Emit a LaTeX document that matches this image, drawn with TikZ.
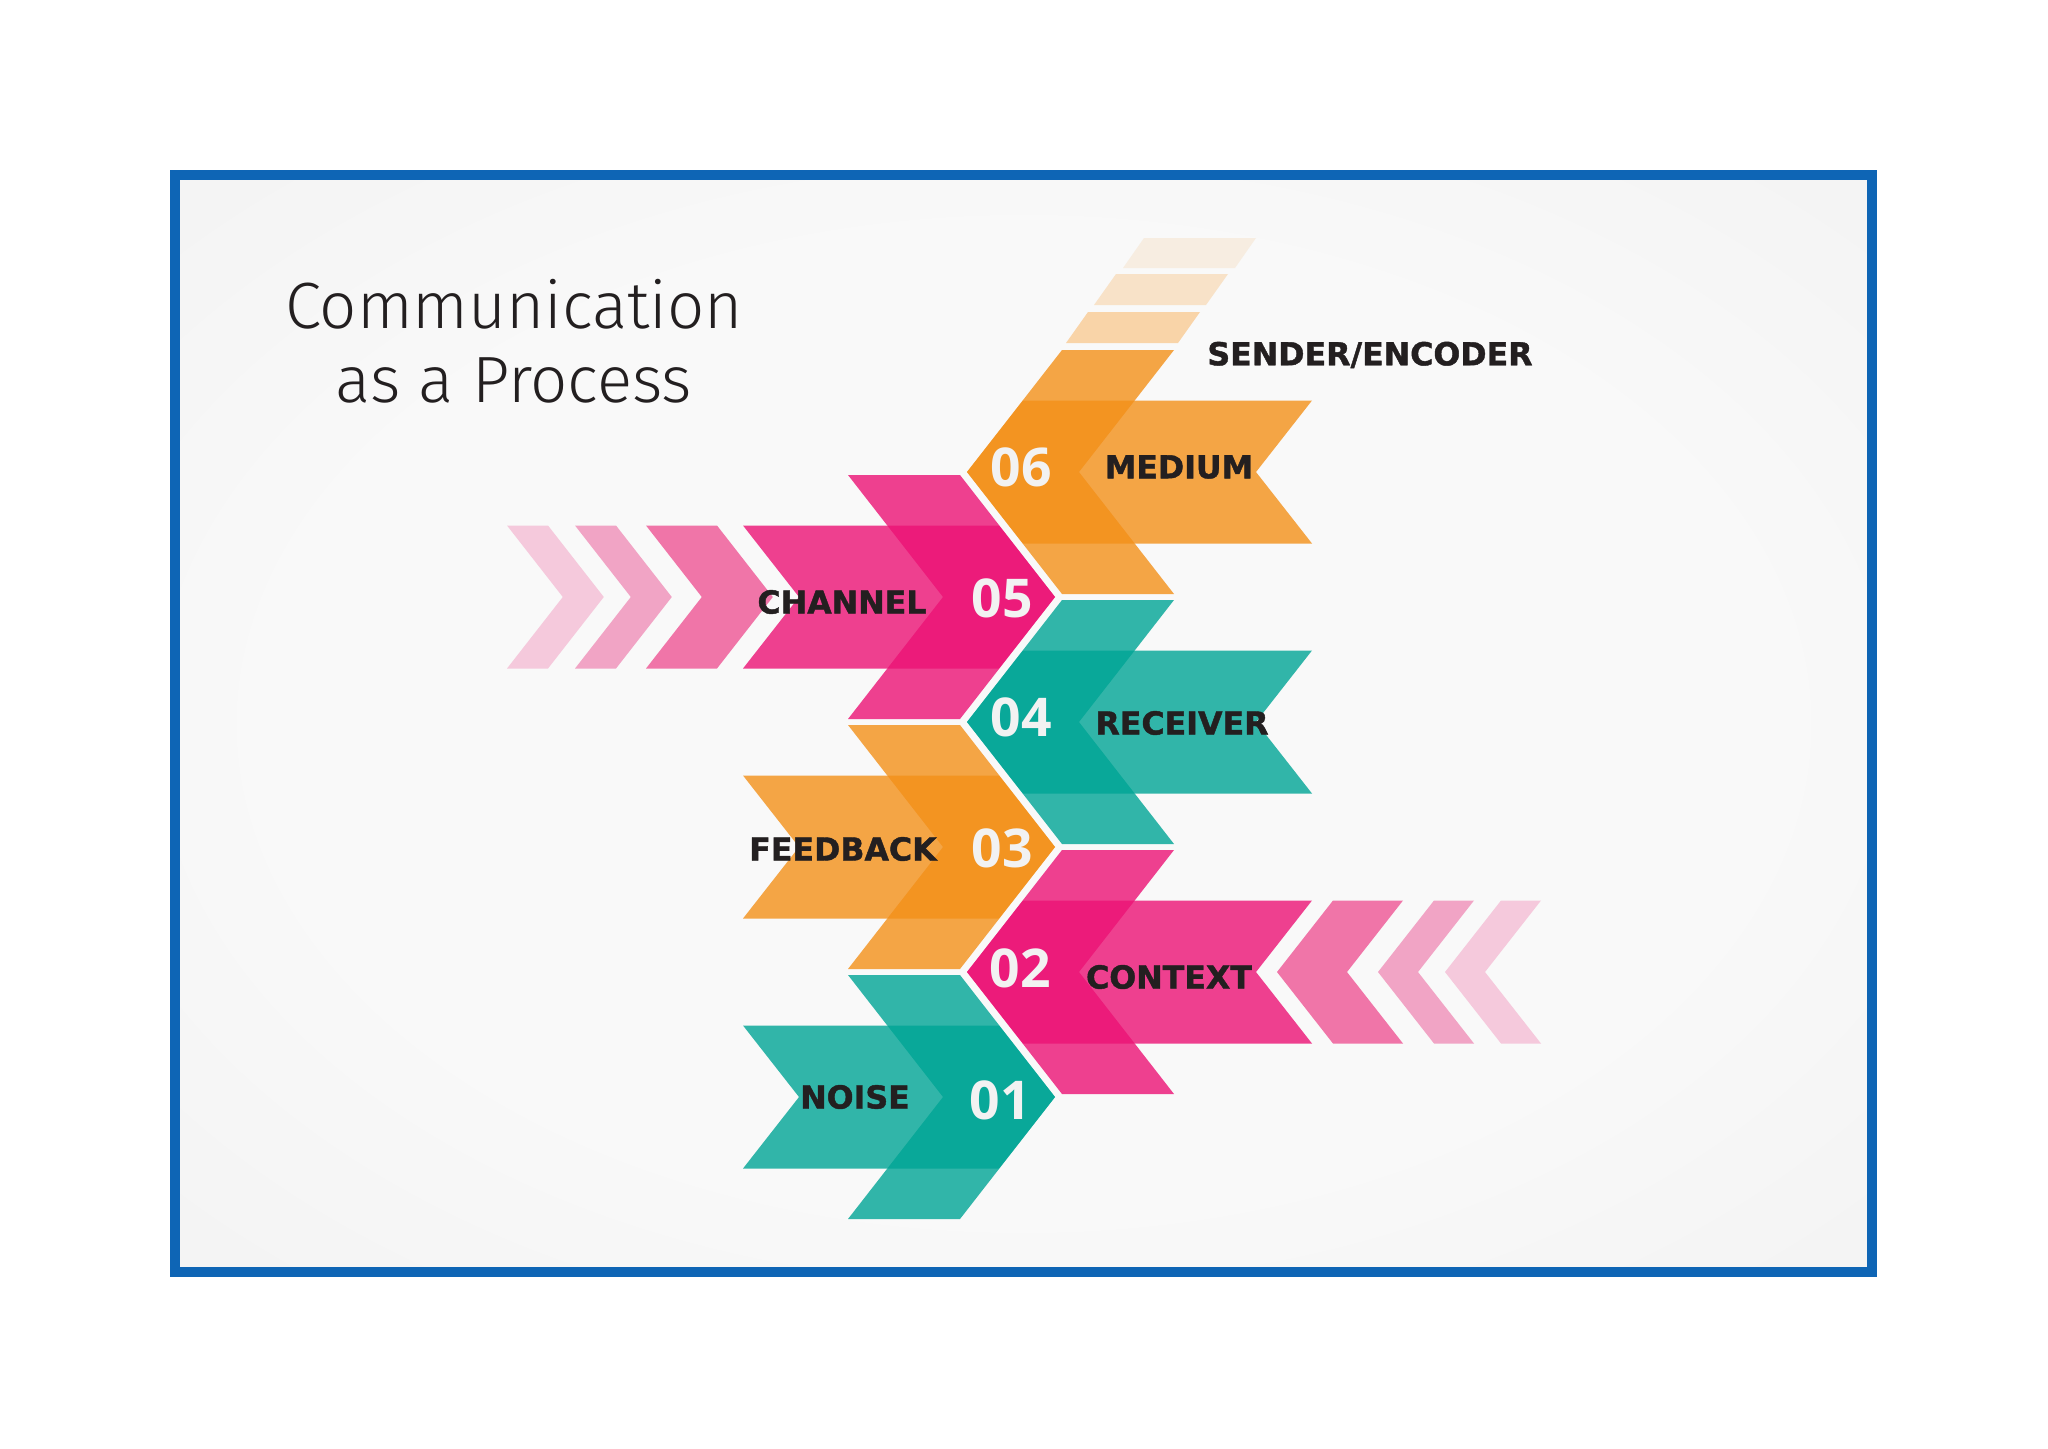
\documentclass[tikz,border=0pt]{standalone}
\usepackage{fontspec}
\setmainfont{DejaVu Sans}
\newfontfamily\titlefont{Fira Sans Light}
\newfontfamily\numfont{Open Sans}
\newfontfamily\heavyfont{DejaVu Sans Bold}[FakeBold=1.3]

\definecolor{frameblue}{RGB}{14,101,181}
\definecolor{tealc}{RGB}{0,165,149}
\definecolor{pinkc}{RGB}{236,18,117}
\definecolor{orangec}{RGB}{243,144,25}
\definecolor{fadeC}{RGB}{240,117,168}
\definecolor{fadeB}{RGB}{241,164,197}
\definecolor{fadeA}{RGB}{245,201,220}
\definecolor{stripe3}{RGB}{249,212,168}
\definecolor{stripe2}{RGB}{248,226,200}
\definecolor{stripe1}{RGB}{247,237,225}
\definecolor{bgin}{RGB}{249,249,249}
\definecolor{bgout}{RGB}{229,229,229}
\definecolor{inktext}{RGB}{35,31,32}
\definecolor{numwhite}{RGB}{242,242,242}
\pgfdeclareradialshading{panel}{\pgfpoint{0bp}{0bp}}{color(0bp)=(bgin); color(22bp)=(bgin); color(70bp)=(bgout)}

\begin{document}
\begin{tikzpicture}[x=0.01cm, y=-0.01cm,
  stagename/.style={font=\heavyfont\fontsize{9}{10}\selectfont, text=inktext, inner sep=0pt},
  stagenum/.style={font=\numfont\bfseries\fontsize{15.2}{16}\selectfont, text=numwhite, inner sep=0pt},
  stagefill/.style={fill=#1, fill opacity=0.8}]
\useasboundingbox (0,0) rectangle (2048,1448);
\fill[white] (0,0) rectangle (2048,1448);
\shade[shading=panel] (175,175) rectangle (1872,1272);
\draw[frameblue, line width=2.85pt] (175,175) rectangle (1872,1272);

% fading stripes above 06
\fill[stripe1] (1123,268) -- (1235,268) -- (1256,238) -- (1144,238) -- cycle;
\fill[stripe2] (1094,305) -- (1206,305) -- (1228,274) -- (1116,274) -- cycle;
\fill[stripe3] (1066,343) -- (1178,343) -- (1200,312) -- (1088,312) -- cycle;

% right column: 06, 04, 02
\fill[stagefill=orangec] (967,472) -- (1062,350) -- (1174,350) -- (1079,472) -- (1174,594) -- (1062,594) -- cycle;
\fill[stagefill=orangec] (967,472) -- (1023,400.5) -- (1312,400.5) -- (1256,472) -- (1312,543.5) -- (1023,543.5) -- cycle;
\fill[stagefill=tealc] (967,722) -- (1062,600) -- (1174,600) -- (1079,722) -- (1174,844) -- (1062,844) -- cycle;
\fill[stagefill=tealc] (967,722) -- (1023,650.5) -- (1312,650.5) -- (1256,722) -- (1312,793.5) -- (1023,793.5) -- cycle;
\fill[stagefill=pinkc] (967,972) -- (1062,850) -- (1174,850) -- (1079,972) -- (1174,1094) -- (1062,1094) -- cycle;
\fill[stagefill=pinkc] (967,972) -- (1023,900.5) -- (1312,900.5) -- (1256,972) -- (1312,1043.5) -- (1023,1043.5) -- cycle;

% left column: 05, 03, 01
\fill[stagefill=pinkc] (848,475) -- (960,475) -- (1055,597) -- (960,719) -- (848,719) -- (943,597) -- cycle;
\fill[stagefill=pinkc] (743,525.5) -- (999,525.5) -- (1055,597) -- (999,668.5) -- (743,668.5) -- (799,597) -- cycle;
\fill[stagefill=orangec] (848,725) -- (960,725) -- (1055,847) -- (960,969) -- (848,969) -- (943,847) -- cycle;
\fill[stagefill=orangec] (743,775.5) -- (999,775.5) -- (1055,847) -- (999,918.5) -- (743,918.5) -- (799,847) -- cycle;
\fill[stagefill=tealc] (848,975) -- (960,975) -- (1055,1097) -- (960,1219) -- (848,1219) -- (943,1097) -- cycle;
\fill[stagefill=tealc] (743,1025.5) -- (999,1025.5) -- (1055,1097) -- (999,1168.5) -- (743,1168.5) -- (799,1097) -- cycle;

% fading chevrons
\fill[fadeA] (507,525.5) -- (548,525.5) -- (603.8,597) -- (548,668.5) -- (507,668.5) -- (562.8,597) -- cycle;
\fill[fadeB] (575,525.5) -- (616,525.5) -- (671.8,597) -- (616,668.5) -- (575,668.5) -- (630.8,597) -- cycle;
\fill[fadeC] (646,525.5) -- (717,525.5) -- (772.8,597) -- (717,668.5) -- (646,668.5) -- (701.8,597) -- cycle;
\fill[fadeC] (1277,972) -- (1333,900.5) -- (1403,900.5) -- (1347,972) -- (1403,1043.5) -- (1333,1043.5) -- cycle;
\fill[fadeB] (1378,972) -- (1434,900.5) -- (1474,900.5) -- (1418,972) -- (1474,1043.5) -- (1434,1043.5) -- cycle;
\fill[fadeA] (1445,972) -- (1501,900.5) -- (1541,900.5) -- (1485,972) -- (1541,1043.5) -- (1501,1043.5) -- cycle;

\node[font=\titlefont\fontsize{18.6}{21}\selectfont, align=center, text=inktext] (title) at (514,341) {Communication\\as a Process};
\node[stagename] (sender) at (1370,355) {SENDER/ENCODER};
\node[stagename] (medium) at (1179,467) {MEDIUM};
\node[stagename] (channel) at (842,602) {CHANNEL};
\node[stagename] (receiver) at (1182,723) {RECEIVER};
\node[stagename] (feedback) at (843,849) {FEEDBACK};
\node[stagename] (context) at (1169,977) {CONTEXT};
\node[stagename] (noise) at (855,1097) {NOISE};
\node[stagenum] (n06) at (1021,467) {06};
\node[stagenum] (n05) at (1002,598) {05};
\node[stagenum] (n04) at (1021,717) {04};
\node[stagenum] (n03) at (1002,848) {03};
\node[stagenum] (n02) at (1020,968) {02};
\node[stagenum] (n01) at (1000,1100) {01};
\end{tikzpicture}
\end{document}
